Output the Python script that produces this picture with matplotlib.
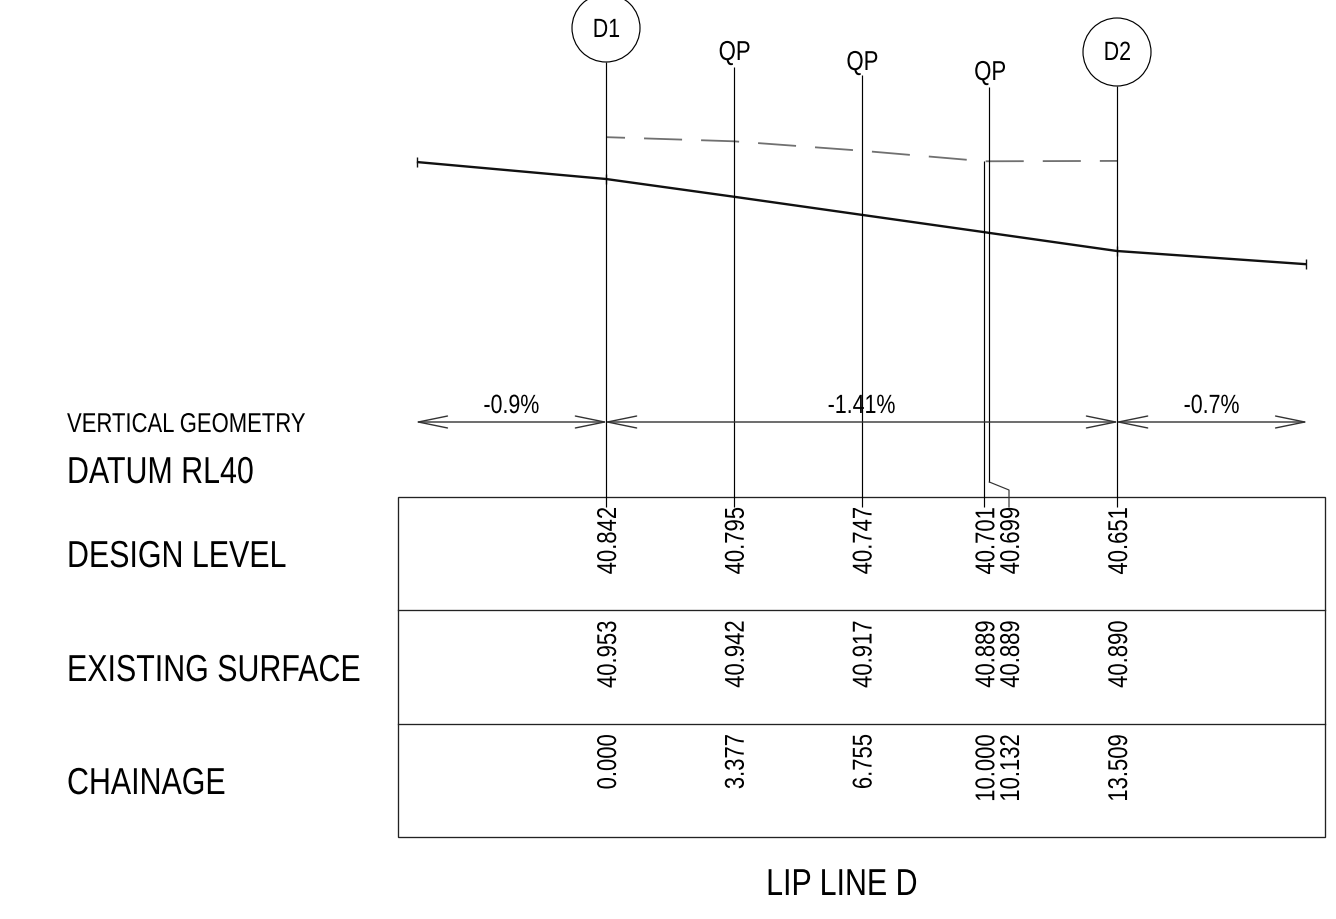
import matplotlib
matplotlib.use("Agg")
from matplotlib import pyplot as plt
from matplotlib.patches import Circle, Rectangle
from matplotlib.patheffects import AbstractPathEffect
from matplotlib.transforms import Affine2D, blended_transform_factory

plt.rcParams['font.family'] = ['Liberation Sans', 'DejaVu Sans']
plt.rcParams['lines.scale_dashes'] = False

chainage = [0.000, 3.377, 6.755, 10.000, 10.132, 13.509]
design = [40.842, 40.795, 40.747, 40.701, 40.699, 40.651]
existing = [40.953, 40.942, 40.917, 40.889, 40.889, 40.890]
design_txt = ["40.842", "40.795", "40.747", "40.701", "40.699", "40.651"]
existing_txt = ["40.953", "40.942", "40.917", "40.889", "40.889", "40.890"]
chainage_txt = ["0.000", "3.377", "6.755", "10.000", "10.132", "13.509"]

line_ch = [-5.0, 0.000, 3.377, 6.755, 10.000, 10.132, 13.509, 18.509]
line_rl = [40.887, 40.842, 40.795, 40.747, 40.701, 40.699, 40.651, 40.616]

grade_ch = [-5.0, 0.0, 13.509, 18.509]
grade_txt = ["-0.9%", "-1.41%", "-0.7%"]
row_names = ["DESIGN LEVEL", "EXISTING SURFACE", "CHAINAGE"]

W, H = 1336, 920
X0, PX_M = 606.0, 37.83
Y0, PX_RL = 180.0, 377.0
NARROW = 0.81


class Narrow(AbstractPathEffect):
    # squeezes the glyphs along the baseline, no condensed font is installed
    # anchor: 0 keeps the start of the string, .5 the middle, 1 the end
    def __init__(self, anchor=0.0):
        super().__init__()
        self.anchor = anchor

    def draw_path(self, renderer, gc, tpath, affine, rgbFace=None):
        xs = tpath.vertices[:, 0]
        cx = xs.min() + self.anchor * (xs.max() - xs.min())
        squeeze = Affine2D().translate(-cx, 0).scale(NARROW, 1).translate(cx, 0)
        renderer.draw_path(gc, tpath, squeeze + affine, rgbFace)


fig = plt.figure(figsize=(W / 100, H / 100), dpi=100, facecolor='white')

# section axes in chainage / level
ax = fig.add_axes([0, 0, 1, 1])
ax.set_xlim(-X0 / PX_M, (W - X0) / PX_M)
ax.set_ylim(design[0] - (H - Y0) / PX_RL, design[0] + Y0 / PX_RL)
ax.axis('off')

# overlay in pixels for the sheet furniture
px = fig.add_axes([0, 0, 1, 1])
px.set_xlim(0, W)
px.set_ylim(H - 1, -1)
px.axis('off')
px.patch.set_alpha(0)

ch_px = blended_transform_factory(ax.transData, px.transData)
LW = 0.85
DARK = '#222222'


def vline(x, y1, y2):
    px.plot([x, x], [y1, y2], color='black', lw=LW, transform=ch_px, solid_capstyle='butt')


def label(x, y, s, size, anchor=0.5, **kw):
    px.text(x, y, s, fontsize=size, path_effects=[Narrow(anchor)], **kw)


# profile lines
ax.plot(line_ch, line_rl, color='#111111', lw=1.7, marker='|', ms=7, mew=1.0,
        markevery=[0, 1, 6, 7], solid_capstyle='butt')
ax.plot([chainage[0], chainage[1], chainage[2], chainage[3], chainage[5]],
        [existing[0], existing[1], existing[2], existing[3], existing[5]],
        color='#707070', lw=1.3, linestyle=(13.7, (27.4, 13.7)), dash_capstyle='butt')

# set-out lines
vline(chainage[0], 62, 507)
vline(chainage[1], 67, 507)
vline(chainage[2], 75, 507)
vline(chainage[5], 86, 507)
vline(chainage[4], 87, 482)
px.plot([989.3, 1009, 1009], [482, 490, 507], color='#333333', lw=LW)
vline(chainage[3], 161, 507)

# callouts
px.add_patch(Circle((606, 28), 34, fc='white', ec='black', lw=LW, zorder=3))
px.add_patch(Circle((1117, 52), 34, fc='white', ec='black', lw=LW, zorder=3))
label(606.5, 30, "D1", 19, ha='center', va='center', zorder=4)
label(1117.5, 53, "D2", 19, ha='center', va='center', zorder=4)
for c, y in zip([chainage[1], chainage[2], chainage[4]], [53, 63, 73]):
    label(c + 1 / PX_M, y, "QP", 19.7, ha='center', va='center', transform=ch_px)

# grade arrows
for i, txt in enumerate(grade_txt):
    a, b = grade_ch[i], grade_ch[i + 1]
    nudge = 2 / PX_M
    px.annotate("", xy=(a - nudge, 422), xytext=(b + nudge, 422), xycoords=ch_px, textcoords=ch_px,
                arrowprops=dict(arrowstyle='<->,head_length=21,head_width=4.3', mutation_scale=1,
                                color='#333333', lw=LW + 0.15, shrinkA=0, shrinkB=0))
    label((a + b) / 2, 406, txt, 19, ha='center', va='center', transform=ch_px)

# table
rows_top = [497, 610.5, 724]
px.add_patch(Rectangle((398, 497), 926.5, 340.5, fc='none', ec=DARK, lw=LW + 0.1))
for y in rows_top[1:]:
    px.plot([398, 1324.5], [y, y], color=DARK, lw=LW + 0.1)

for top, vals in zip(rows_top, [design_txt, existing_txt, chainage_txt]):
    for i, (c, s) in enumerate(zip(chainage, vals)):
        # 10.132 is pushed clear of 10.000 on the sheet
        xt = c + (1009 - 989.3) / PX_M if i == 4 else c
        label(xt + 3 / PX_M, top + 9.5, s, 19.6, anchor=1.0, rotation=90,
              ha='center', va='top', transform=ch_px)

# left hand labels
label(67, 425, "VERTICAL GEOMETRY", 19.6, anchor=0.0, va='center')
label(67, 473, "DATUM RL40", 27, anchor=0.0, va='center')
for name, y in zip(row_names, [557, 671, 784]):
    label(67, y, name, 27, anchor=0.0, va='center')
label(842, 885, "LIP LINE D", 27, ha='center', va='center')

fig.savefig("out.png", dpi=100)
